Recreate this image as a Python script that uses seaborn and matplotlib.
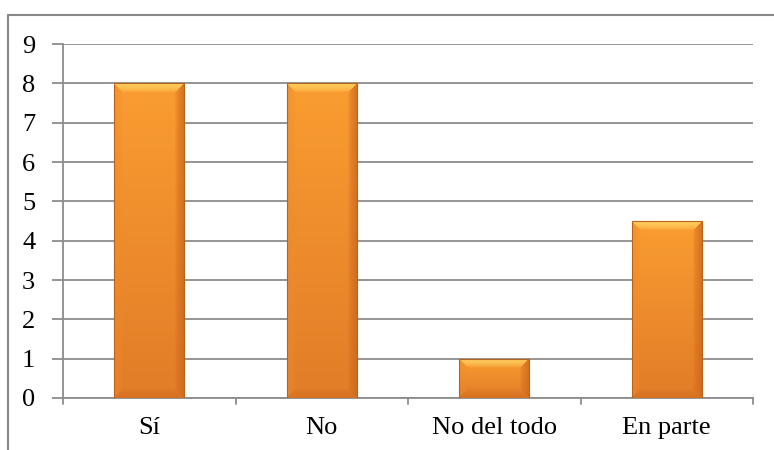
import numpy as np
import pandas as pd
import matplotlib
matplotlib.use("Agg")
import matplotlib.pyplot as plt
import seaborn as sns
from matplotlib.colors import to_rgb

categories = ["Sí", "No", "No del todo", "En parte"]
values = [8, 8, 1, 4.5]
y_ticks = list(range(0, 10))

df = pd.DataFrame({"cat": categories, "val": values})

sns.set_theme(style="white")
plt.rcParams["font.family"] = ["Liberation Serif", "DejaVu Serif"]

W, H, DPI = 774, 450, 100
FS = 19
fig = plt.figure(figsize=(W / DPI, H / DPI), dpi=DPI)
ax = fig.add_axes([63 / W, 1 - 398 / H, 690 / W, 354 / H])

sns.barplot(data=df, x="cat", y="val", ax=ax, color="#F99A2F",
            width=0.405, edgecolor="#B9621C", linewidth=0.8, zorder=3)

ax.set_ylim(0, 9)
ax.set_xlim(-0.5, len(categories) - 0.5)
ax.set_yticks(y_ticks)
ax.set_xlabel("")
ax.set_ylabel("")

grid_c = "#8C8C8C"
ax.yaxis.grid(True, color=grid_c, linewidth=1.3, zorder=0)
ax.xaxis.grid(False)
for s in ["top", "right"]:
    ax.spines[s].set_visible(False)
for s in ["left", "bottom"]:
    ax.spines[s].set_color(grid_c)
    ax.spines[s].set_linewidth(1.3)

# category boundary ticks on the x axis
ax.set_xticks(np.arange(len(categories)))
ax.set_xticklabels(categories, fontsize=FS)
ax.tick_params(axis="x", length=0, pad=14, colors="black")
for b in np.arange(-0.5, len(categories), 1.0):
    ax.plot([b, b], [0, -0.14], color=grid_c, lw=1.3, clip_on=False, zorder=2)
ax.tick_params(axis="y", length=8, width=1.3, color=grid_c, pad=12,
               labelcolor="black", left=True)
for lbl in ax.get_yticklabels():
    lbl.set_fontsize(FS)

# bevelled orange fill for each bar
base_top = np.array(to_rgb("#FA9D31"))
base_bot = np.array(to_rgb("#E27C28"))
top_c = np.array(to_rgb("#FFD262"))
right_c = np.array(to_rgb("#C9661C"))
left_c = np.array(to_rgb("#EE8A2A"))
bot_c = np.array(to_rgb("#CF6A1E"))
fig.canvas.draw()
for patch in ax.patches:
    x0, y0 = patch.get_x(), patch.get_y()
    w, h = patch.get_width(), patch.get_height()
    p0 = ax.transData.transform((x0, y0))
    p1 = ax.transData.transform((x0 + w, y0 + h))
    pw, ph = int(round(p1[0] - p0[0])), int(round(p1[1] - p0[1]))
    u = np.arange(pw)[None, :] + 0.5
    v = np.arange(ph)[:, None] + 0.5
    t = np.broadcast_to(v / max(ph, 1), (ph, pw))[..., None]
    img = base_top * (1 - t) + base_bot * t
    bev = 9
    dl = np.broadcast_to(u, (ph, pw))
    dr = pw - dl
    dt = np.broadcast_to(v, (ph, pw))
    db = ph - dt
    d = np.stack([dt, db, dl, dr])
    m = d.argmin(axis=0)
    dmin = d.min(axis=0)
    inb = dmin < bev
    fade = np.clip(1 - dmin / bev, 0, 1)[..., None] ** 0.6
    strengths = [1.0, 0.6, 0.5, 0.75]
    for k, c in enumerate([top_c, bot_c, left_c, right_c]):
        sel = (inb & (m == k))[..., None]
        a = fade * strengths[k]
        mix = img * (1 - a) + c * a
        img = np.where(sel, mix, img)
    im = ax.imshow(img, extent=(x0, x0 + w, y0, y0 + h), origin="upper",
                   aspect="auto", interpolation="bilinear", zorder=3.5)
    im.set_clip_path(patch)
    patch.set_facecolor("none")
    patch.set_zorder(4)

ax.set_xlim(-0.5, len(categories) - 0.5)
ax.set_ylim(0, 9)

# outer chart border (top and left edges fall inside the image)
fig.add_artist(plt.Line2D([8 / W, 1.0], [1 - 15 / H, 1 - 15 / H],
                          transform=fig.transFigure, color="#888888", lw=1.5))
fig.add_artist(plt.Line2D([8 / W, 8 / W], [0.0, 1 - 15 / H],
                          transform=fig.transFigure, color="#888888", lw=1.5))

fig.savefig("out.png", dpi=DPI)
